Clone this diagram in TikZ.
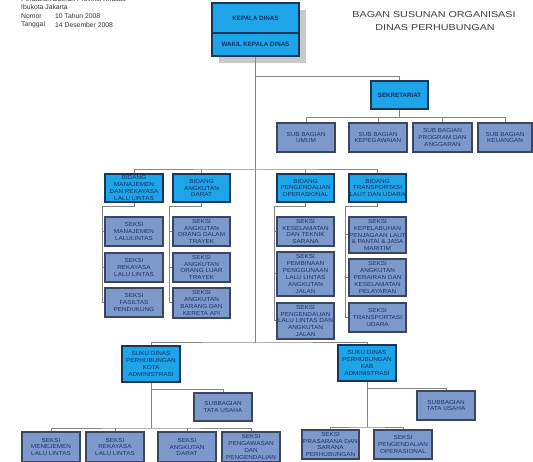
\documentclass[tikz,border=0pt]{standalone}
\usepackage{fontspec}
\setmainfont{Liberation Sans}
\newfontfamily\boxfont[FakeStretch=1.1]{Liberation Sans}
\newfontfamily\titlefont[FakeStretch=1.25]{Liberation Sans}
\definecolor{cyanfill}{HTML}{1EA5E9}
\definecolor{navyline}{HTML}{1B3558}
\definecolor{navytext}{HTML}{142F5E}
\definecolor{seksifill}{HTML}{7D98CB}
\definecolor{seksiline}{HTML}{3C475F}
\definecolor{seksitext}{HTML}{1C3468}
\definecolor{linegray}{HTML}{858585}
\definecolor{shadowgray}{HTML}{C9C9C9}
\definecolor{titlegray}{HTML}{3E3E3E}
\tikzset{
  sz/.style 2 args={minimum width=#1pt, minimum height=#2pt},
  cyanbox/.style={draw=navyline, line width=1.6pt, fill=cyanfill, text=navytext,
    font=\boxfont\fontsize{5.8}{6.9}\selectfont, align=center, inner sep=0pt},
  chiefbox/.style={cyanbox, font=\bfseries\fontsize{6.2}{7}\selectfont},
  seksibox/.style={draw=seksiline, line width=1.1pt, fill=seksifill, text=seksitext,
    font=\boxfont\fontsize{5.8}{6.9}\selectfont, align=center, inner sep=0pt},
  conn/.style={draw=linegray, line width=1pt},
  titletext/.style={text=titlegray, font=\titlefont\fontsize{8.6}{10}\selectfont, inner sep=0pt},
  notetext/.style={text=titlegray!80!black, font=\fontsize{6.8}{8}\selectfont, inner sep=0pt, anchor=west},
}
\begin{document}
\begin{tikzpicture}[x=1pt,y=-1pt]
\useasboundingbox (0,0) rectangle (533,462);
\clip (0,0) rectangle (533,462);
\fill[white] (0,0) rectangle (533,462);

% header notes
\node[notetext, anchor=east] (n0) at (8,-1.3) {Lampiran};
\node[notetext] (n0c) at (15,-1.3) {:};
\node[notetext] (n1) at (21,-1.3) {Peraturan Daerah Provinsi Khusus};
\node[notetext] (n2) at (21,6.7) {Ibukota Jakarta};
\node[notetext] (n3) at (21,15.8) {Nomor};
\node[notetext] (n3b) at (55,15.8) {10 Tahun 2008};
\node[notetext] (n4) at (21,25) {Tanggal};
\node[notetext] (n4b) at (55,25) {14 Desember 2008};

% title
\node[titletext] (t1) at (434,15) {BAGAN SUSUNAN ORGANISASI};
\node[titletext] (t2) at (435,27.5) {DINAS PERHUBUNGAN};

% chief
\fill[shadowgray] (219,10) rectangle (306,63);
\node[chiefbox, sz={87}{30}] (kepala) at (255.5,18) {KEPALA DINAS};
\node[chiefbox, sz={87}{23}] (wakil) at (255.5,44.5) {WAKIL KEPALA DINAS};

% sekretariat
\node[chiefbox, sz={57}{28}] (sek) at (399.5,95) {SEKRETARIAT};
\node[seksibox, sz={58}{29}] (sub1) at (306,137.5) {SUB BAGIAN\\UMUM};
\node[seksibox, sz={58}{29}] (sub2) at (378,137.5) {SUB BAGIAN\\KEPEGAWAIAN};
\node[seksibox, sz={59}{29}] (sub3) at (442.5,137.5) {SUB BAGIAN\\PROGRAM DAN\\ANGGARAN};
\node[seksibox, sz={54}{29}] (sub4) at (505,137.5) {SUB BAGIAN\\KEUANGAN};

% bidang
\node[cyanbox, sz={58}{28}] (bid1) at (134,188) {BIDANG\\MANAJEMEN\\DAN REKAYASA\\LALU LINTAS};
\node[cyanbox, sz={57}{28}] (bid2) at (201.5,188) {BIDANG\\ANGKUTAN\\DARAT};
\node[cyanbox, sz={57}{28}] (bid3) at (305.5,188) {BIDANG\\PENGENDALIAN\\OPERASIONAL};
\node[cyanbox, sz={57}{28}] (bid4) at (377.5,188) {BIDANG\\TRANSPORTASI\\LAUT DAN UDARA};

% seksi column 1
\node[seksibox, sz={58}{29}] (s11) at (134,231.5) {SEKSI\\MANAJEMEN\\LALULINTAS};
\node[seksibox, sz={58}{29}] (s12) at (134,267.5) {SEKSI\\REKAYASA\\LALU LINTAS};
\node[seksibox, sz={58}{29}] (s13) at (134,302.5) {SEKSI\\FASILTAS\\PENDUKUNG};
% column 2
\node[seksibox, sz={57}{29}] (s21) at (201.5,231.5) {SEKSI\\ANGKUTAN\\ORANG DALAM\\TRAYEK};
\node[seksibox, sz={57}{29}] (s22) at (201.5,267.5) {SEKSI\\ANGKUTAN\\ORANG LUAR\\TRAYEK};
\node[seksibox, sz={57}{30}] (s23) at (201.5,303) {SEKSI\\ANGKUTAN\\BARANG DAN\\KERETA API};
% column 3
\node[seksibox, sz={57}{29}] (s31) at (305.5,231.5) {SEKSI\\KESELAMATAN\\DAN TEKNIK\\SARANA};
\node[seksibox, sz={57}{44}] (s32) at (305.5,274) {SEKSI\\PEMBINAAN\\PENGGUNAAN\\LALU LINTAS\\ANGKUTAN\\JALAN};
\node[seksibox, sz={57}{36}] (s33) at (305.5,321) {SEKSI\\PENGENDALIAN\\LALU LINTAS DAN\\ANGKUTAN\\JALAN};
% column 4
\node[seksibox, sz={57}{36}] (s41) at (377.5,235) {SEKSI\\KEPELABUHAN\\PENJAGAAN LAUT\\\& PANTAI \& JASA\\MARITIM};
\node[seksibox, sz={57}{37}] (s42) at (377.5,277.5) {SEKSI\\ANGKUTAN\\PERAIRAN DAN\\KESELAMATAN\\PELAYARAN};
\node[seksibox, sz={57}{29}] (s43) at (377.5,317.5) {SEKSI\\TRANSPORTASI\\UDARA};

% suku dinas kota
\node[cyanbox, sz={58}{36}] (sk1) at (151,364) {SUKU DINAS\\PERHUBUNGAN\\KOTA\\ADMINISTRASI};
\node[seksibox, sz={58}{28}] (tu1) at (223,407) {SUBBAGIAN\\TATA USAHA};
\node[seksibox, sz={58}{30}] (b1) at (51,447) {SEKSI\\MENEJEMEN\\LALU LINTAS};
\node[seksibox, sz={58}{30}] (b2) at (115,447) {SEKSI\\REKAYASA\\LALU LINTAS};
\node[seksibox, sz={58}{30}] (b3) at (187,447) {SEKSI\\ANGKUTAN\\DARAT};
\node[seksibox, sz={58}{30}] (b4) at (251,447) {SEKSI\\PENGAWASAN\\DAN\\PENGENDALIAN};

% suku dinas kab
\node[cyanbox, sz={58}{36}] (sk2) at (367,363) {SUKU DINAS\\PERHUBUNGAN\\KAB\\ADMINISTRASI};
\node[seksibox, sz={58}{29}] (tu2) at (446,405.5) {SUBBAGIAN\\TATA USAHA};
\node[seksibox, sz={57}{29}] (c1) at (330.5,444.5) {SEKSI\\PRASARANA DAN\\SARANA\\PERHUBUNGAN};
\node[seksibox, sz={58}{29}] (c2) at (403,444.5) {SEKSI\\PENGENDALIAN\\OPERASIONAL};

% connectors
\coordinate (hb) at (255.5,343);
\coordinate (h1) at (255.5,77);
\coordinate (h3) at (255.5,170);
\draw[conn] (wakil.south) -- (hb);
\draw[conn] (h1) -| (sek.north);
\draw[conn] (sek.south) -- ++(0,8) coordinate (h2);
\draw[conn] (sub1.north) |- (h2) -| (sub4.north);
\draw[conn] (sub2.north) -- (sub2.north |- h2);
\draw[conn] (sub3.north) -- (sub3.north |- h2);

\draw[conn] (bid1.north) |- (h3) -| (bid4.north);
\draw[conn] (bid2.north) -- (bid2.north |- h3);
\draw[conn] (bid3.north) -- (bid3.north |- h3);

\coordinate (v1) at (102,207);
\draw[conn] (bid1.south) |- (v1) |- (s13.west);
\draw[conn] (v1 |- s11.west) -- (s11.west);
\draw[conn] (v1 |- s12.west) -- (s12.west);
\coordinate (v2) at (169,207);
\draw[conn] (bid2.south) |- (v2) |- (s23.west);
\draw[conn] (v2 |- s21.west) -- (s21.west);
\draw[conn] (v2 |- s22.west) -- (s22.west);
\coordinate (v3) at (274,207);
\draw[conn] (bid3.south) |- (v3) |- (s33.west);
\draw[conn] (v3 |- s31.west) -- (s31.west);
\draw[conn] (v3 |- s32.west) -- (s32.west);
\coordinate (v4) at (345,207);
\draw[conn] (bid4.south) |- (v4) |- (s43.west);
\draw[conn] (v4 |- s41.west) -- (s41.west);
\draw[conn] (v4 |- s42.west) -- (s42.west);

\draw[conn] (sk1.north) |- (hb) -| (sk2.north);

\coordinate (tj1) at (151,389);
\coordinate (h5) at (151,428);
\draw[conn] (sk1.south) -- (h5);
\draw[conn] (tj1) -| (tu1.north);
\draw[conn] (b1.north) |- (h5) -| (b4.north);
\draw[conn] (b2.north) -- (b2.north |- h5);
\draw[conn] (b3.north) -- (b3.north |- h5);

\coordinate (tj2) at (367,388);
\coordinate (h6) at (367,427);
\draw[conn] (sk2.south) -- (h6);
\draw[conn] (tj2) -| (tu2.north);
\draw[conn] (c1.north) |- (h6) -| (c2.north);
\end{tikzpicture}
\end{document}
